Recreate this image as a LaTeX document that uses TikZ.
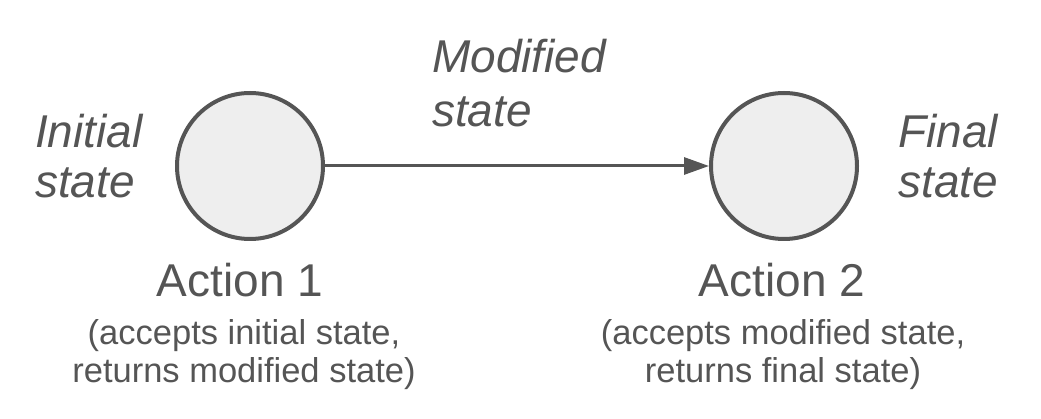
\documentclass[tikz,border=0pt]{standalone}
\usepackage{fontspec}
\usetikzlibrary{arrows.meta}
\setmainfont{Liberation Sans}
\definecolor{txtgray}{HTML}{555555}
\definecolor{ballfill}{HTML}{EEEEEE}
\tikzset{
  ball/.style={circle,draw=txtgray,fill=ballfill,line width=4pt,minimum size=146pt,inner sep=0pt},
  statelabel/.style={anchor=base west,align=left,inner sep=0pt,text=txtgray,font=\fontsize{46}{50}\selectfont\itshape},
  acttitle/.style={anchor=base,inner sep=0pt,text=txtgray,font=\fontsize{46}{52}\selectfont},
  actnote/.style={anchor=base,align=center,inner sep=0pt,text=txtgray,font=\fontsize{34.5}{38}\selectfont},
}
\begin{document}
\begin{tikzpicture}[x=1pt,y=-1pt]
\useasboundingbox (0,0) rectangle (1041,419);
\node [ball] (act1) at (250,166) {};
\node [ball] (act2) at (784,166) {};
\draw [-{Triangle[length=25pt,width=17pt]},line width=3pt,draw=txtgray] (act1) -- (act2);
% base of a two-line node is the baseline of its last line
\node [statelabel] (init) at (35,198) {Initial\\state};
\node [statelabel,font=\fontsize{46}{54}\selectfont\itshape] (mod) at (432,127) {Modified\\state};
\node [statelabel] (fin) at (898,198) {Final\\state};
\node [acttitle] (title1) at (240,297) {Action 1};
\node [actnote] (note1) at (244,382) {(accepts initial state,\\returns modified state)};
\node [acttitle] (title2) at (782,297) {Action 2};
\node [actnote] (note2) at (783,382) {(accepts modified state,\\returns final state)};
\end{tikzpicture}
\end{document}
